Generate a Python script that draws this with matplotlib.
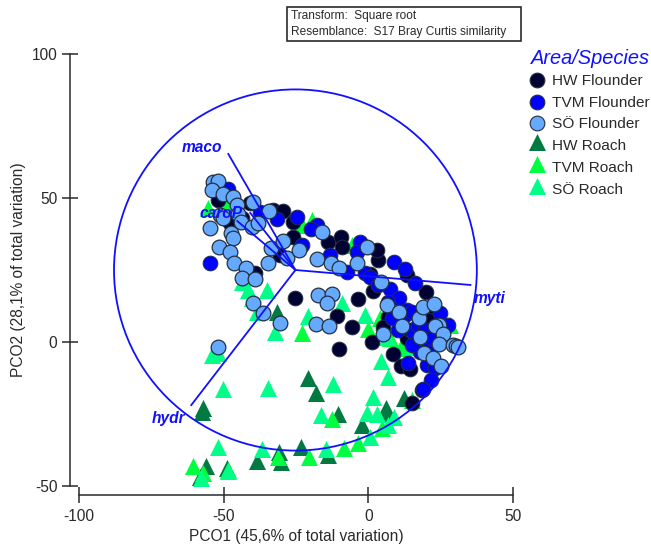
import matplotlib
matplotlib.use('Agg')
import matplotlib.pyplot as plt
from matplotlib.patches import Circle, Rectangle

plt.rcParams['font.family'] = ['Liberation Sans', 'DejaVu Sans']
plt.rcParams['axes.unicode_minus'] = False

# --------------------------
# Data
# --------------------------
hw_roach_x = [-20.7, -18.0, -10.4, -57.0, -57.4, 6.2, 6.2, -2.1, 12.4, -56.0, -38.4, -30.8, -30.1, -23.2, -13.8, -48.7, -58.1, -31.5, 16.2]
hw_roach_y = [-12.5, -17.7, -25.0, -22.9, -24.3, -22.9, -24.7, -28.8, -19.4, -43.1, -41.3, -38.2, -41.7, -36.5, -39.2, -43.8, -46.9, 10.4, -1.7]

tvm_roach_x = [-22.8, -12.4, -60.5, -48.4, -31.1, -20.4, -8.3, -3.5, 0.0, 4.8, -57.0, 15.2, 11.8, 4.1, -19.4, -22.8, -5.5, -55.3, -49.1, 28.3, 12.1, 7.6]
tvm_roach_y = [3.1, -26.7, -43.1, -44.4, -39.9, -39.9, -36.8, -35.1, 4.5, -29.9, -45.5, -20.1, -1.0, 8.3, 42.4, 40.6, 33.7, 46.5, 48.3, 5.9, -2.1, 1.4]

so_roach_x = [-53.9, -51.8, -50.1, -34.6, -12.1, -16.2, 1.7, -0.3, 3.1, 9.0, 6.9, 4.5, 6.9, -51.8, -36.6, -14.5, 0.7, -57.7, -48.4, -20.7, -32.1, -1.0, -9.0, -41.5, -34.9, -40.1, -43.6, -38.4, 5.2, 6.6, 15.6]
so_roach_y = [-4.5, -3.8, -16.3, -16.0, -14.6, -25.3, -19.1, -24.7, -25.0, -26.0, -28.8, -6.6, -12.2, -36.5, -37.2, -37.2, -33.0, -47.2, -44.8, 9.0, 3.5, 9.4, 13.5, 18.1, 18.1, 15.3, 20.8, 10.4, 6.9, 1.7, -1.7]

hw_flounder_x = [-51.8, -40.8, -32.8, -29.4, -25.9, -47.7, -43.6, -25.9, -30.4, -39.1, -25.2, -13.8, -9.3, -9.0, 3.5, 3.1, 1.7, 13.5, 20.0, 6.9, 5.2, 13.5, -3.5, -10.7, -5.5, -10.0, 1.4, 8.6, 11.4, 14.5, 15.2, 22.1, 18.7, 0.7, 20.7, 14.5]
hw_flounder_y = [49.3, 48.3, 45.8, 45.5, 41.7, 41.3, 43.1, 36.5, 30.2, 24.0, 15.3, 34.7, 36.5, 33.0, 28.5, 31.9, 17.7, 23.3, 17.4, 8.7, 5.2, 1.4, 14.9, 9.0, 5.2, -2.4, 0.0, -4.2, -8.3, -9.4, -21.2, 9.4, -16.7, 23.6, 7.6, 4.2]

tvm_flounder_x = [-48.4, -54.6, -37.3, -31.5, -24.5, -22.8, -13.1, -17.6, -19.7, -7.3, -2.8, -3.8, -1.0, 0.7, 9.0, 12.8, 16.2, 7.6, 3.5, 10.7, 6.9, 13.5, 12.8, 15.2, 15.6, 17.3, 24.9, 27.7, 21.4, 13.8, 20.4, 23.2, 21.8, 19.0, 10.4, 19.7, 22.1, 18.0, 15.2, 8.3]
tvm_flounder_y = [53.1, 27.4, 45.1, 42.7, 43.4, 33.7, 30.2, 40.6, 39.2, 24.3, 34.7, 31.3, 24.0, 22.6, 27.8, 25.3, 20.5, 18.4, 19.8, 15.3, 13.9, 11.1, 9.4, 10.4, 3.5, 5.9, 10.1, 5.9, -1.0, -7.3, -8.0, -9.0, -13.2, -16.3, 4.2, 4.2, 1.4, -3.5, -1.0, 8.3]

so_flounder_x = [-53.6, -51.8, -53.9, -50.1, -46.7, -45.3, -39.8, -34.2, -44.9, -51.2, -50.1, -54.6, -47.4, -46.7, -43.9, -40.1, -38.0, -51.5, -47.7, -46.3, -42.2, -43.6, -39.1, -34.6, -33.5, -29.4, -28.0, -23.9, -17.6, -12.8, -10.0, -17.3, -12.4, -14.2, -39.8, -15.9, -3.8, -0.3, 4.5, 6.6, 10.7, 11.8, 17.6, 19.0, 22.8, 18.0, 24.5, 23.2, 25.9, 24.5, 29.4, 30.4, 31.1, 19.4, 22.5, 25.2, 5.2, -18.0, -13.5, -51.8, -30.4, -36.3]
so_flounder_y = [55.6, 55.9, 52.8, 51.4, 50.3, 47.6, 48.6, 45.5, 44.4, 44.1, 43.1, 39.6, 37.8, 36.1, 41.7, 39.9, 41.3, 33.0, 31.3, 27.4, 25.7, 22.2, 21.9, 27.4, 32.6, 35.1, 29.2, 31.9, 28.8, 27.4, 25.7, 16.3, 16.7, 13.5, 13.5, 38.2, 27.4, 33.0, 20.8, 12.8, 10.4, 5.6, 8.3, 12.2, 13.2, 1.7, 5.9, 5.6, 2.8, -0.7, -1.0, -1.4, -1.7, -3.8, -5.6, -8.3, 2.8, 6.3, 5.6, -1.7, 6.6, 10.1]

# vector overlay
origin = (-25.2, 25.0)
circle_radius = 62.7
vector_x = [-48.4, -45.3, -40.8, 35.3, -61.2]
vector_y = [65.3, 42.0, 44.8, 19.8, -21.9]

xticks = [-100, -50, 0, 50]
yticks = [-50, 0, 50, 100]

legend_names = ['HW Flounder', 'TVM Flounder', 'SÖ Flounder', 'HW Roach', 'TVM Roach', 'SÖ Roach']
legend_colors = ['#000033', '#0000FF', '#66AAFF', '#007A40', '#00FF40', '#00FF88']
legend_markers = ['o', 'o', 'o', '^', '^', '^']

W, H = 651, 545
BLUE = '#1010FF'
DARK = '#2A2A2A'
EDGE = '#22303F'

# --------------------------
# Main plot
# --------------------------
fig = plt.figure(figsize=(W / 100, H / 100), dpi=100)
ax = fig.add_axes([79 / W, 1 - 486 / H, 434 / W, 432 / H])
ax.patch.set_visible(False)
ax.set_xlim(-100, 50)
ax.set_ylim(-50, 100)

tri_size = 150
circ_size = 112
ax.scatter(hw_roach_x, hw_roach_y, marker='^', s=tri_size, color=legend_colors[3], linewidths=0, zorder=2, clip_on=False)
ax.scatter(tvm_roach_x, tvm_roach_y, marker='^', s=tri_size, color=legend_colors[4], linewidths=0, zorder=2.1, clip_on=False)
ax.scatter(so_roach_x, so_roach_y, marker='^', s=tri_size, color=legend_colors[5], linewidths=0, zorder=2.2, clip_on=False)
ax.scatter(hw_flounder_x, hw_flounder_y, s=circ_size, color=legend_colors[0], edgecolors=EDGE, linewidths=0.7, zorder=3)
ax.scatter(tvm_flounder_x, tvm_flounder_y, s=circ_size, color=legend_colors[1], edgecolors=EDGE, linewidths=0.7, zorder=3.1)
ax.scatter(so_flounder_x, so_flounder_y, s=circ_size, color=legend_colors[2], edgecolors=EDGE, linewidths=0.9, zorder=3.2)

# correlation circle and vectors
ax.add_patch(Circle(origin, circle_radius, fill=False, edgecolor=BLUE, linewidth=1.3, zorder=4))
for vx, vy in zip(vector_x, vector_y):
    ax.plot([origin[0], vx], [origin[1], vy], color=BLUE, linewidth=1.3, zorder=4)

label_style = dict(color=BLUE, fontsize=11.2, fontweight='bold', fontstyle='italic', va='center', zorder=5)
ax.text(-64.5, 67.5, 'maco', **label_style)
ax.text(-58.5, 44.5, 'caroP', **label_style)
ax.text(36.5, 15.0, 'myti', **label_style)
ax.text(-74.8, -26.5, 'hydr', **label_style)

# axes: detached spines, ticks crossing them
ax.spines['top'].set_visible(False)
ax.spines['right'].set_visible(False)
for side in ['left', 'bottom']:
    ax.spines[side].set_position(('outward', 6.5))
    ax.spines[side].set_color(DARK)
    ax.spines[side].set_linewidth(1.1)
ax.set_xticks(xticks)
ax.set_yticks(yticks)
ax.tick_params(direction='inout', length=12, width=1.1, color=DARK, labelsize=11.2, labelcolor=DARK)
ax.tick_params(axis='x', pad=4)
ax.tick_params(axis='y', pad=3)
ax.set_xlabel('PCO1 (45,6% of total variation)', fontsize=11.2, color=DARK, va='center')
ax.set_ylabel('PCO2 (28,1% of total variation)', fontsize=11.2, color=DARK, va='center')
ax.xaxis.set_label_coords(0.5, -0.116)
ax.yaxis.set_label_coords(-0.14, 0.5)

# --------------------------
# Overlay in pixel coordinates: info box and legend
# --------------------------
over = fig.add_axes([0, 0, 1, 1])
over.set_xlim(0, W)
over.set_ylim(H, 0)
over.axis('off')

over.add_patch(Rectangle((287, 7), 234, 34, fill=False, edgecolor=DARK, linewidth=1.2))
over.text(291, 16, 'Transform:  Square root', fontsize=8.55, color=DARK, va='center')
over.text(291, 32, 'Resemblance:  S17 Bray Curtis similarity', fontsize=8.55, color=DARK, va='center')

over.text(531, 58, 'Area/Species', fontsize=14.4, color=BLUE, fontstyle='italic', va='center')
for i, name in enumerate(legend_names):
    row = 81 + 21.7 * i
    if legend_markers[i] == 'o':
        over.scatter([537], [row - 1], s=circ_size, color=legend_colors[i], edgecolors=EDGE, linewidths=0.8)
    else:
        over.scatter([537], [row - 4], s=tri_size, marker='^', color=legend_colors[i], linewidths=0)
    over.text(552, row, name, fontsize=11.1, color=DARK, va='center')

fig.savefig('out.png', dpi=100)
